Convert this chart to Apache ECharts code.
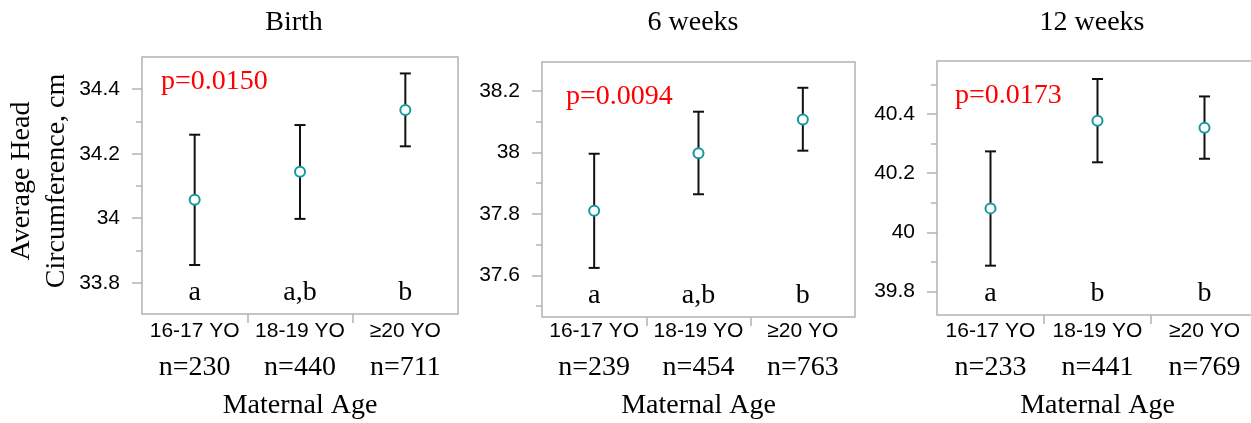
<!DOCTYPE html>
<html>
<head>
<meta charset="utf-8">
<script src="https://cdn.jsdelivr.net/npm/echarts@6/dist/echarts.min.js"></script>
<style>
html,body{margin:0;padding:0;background:#fff;}
#chart{width:1251px;height:423px;}
</style>
</head>
<body>
<div id="chart"></div>
<script>
// ---------------- data ----------------
const categories = ['16-17 YO', '18-19 YO', '\u226520 YO'];
const panelTitles = ['Birth', '6 weeks', '12 weeks'];
const pValues = ['p=0.0150', 'p=0.0094', 'p=0.0173'];

const birthMean = [34.057, 34.144, 34.336];
const birthLow  = [33.855, 33.998, 34.223];
const birthHigh = [34.259, 34.289, 34.449];
const birthN = [230, 440, 711];
const birthLetters = ['a', 'a,b', 'b'];
const birthTicks = [33.8, 34, 34.2, 34.4];
const birthMinorTicks = [33.9, 34.1, 34.3];
const birthRange = [33.703, 34.5];

const week6Mean = [37.810, 37.998, 38.108];
const week6Low  = [37.624, 37.864, 38.006];
const week6High = [37.996, 38.133, 38.211];
const week6N = [239, 454, 763];
const week6Letters = ['a', 'a,b', 'b'];
const week6Ticks = [37.6, 37.8, 38, 38.2];
const week6MinorTicks = [37.5, 37.7, 37.9, 38.1];
const week6Range = [37.464, 38.295];

const week12Mean = [40.081, 40.378, 40.354];
const week12Low  = [39.887, 40.237, 40.249];
const week12High = [40.274, 40.519, 40.460];
const week12N = [233, 441, 769];
const week12Letters = ['a', 'b', 'b'];
const week12Ticks = [39.8, 40, 40.2, 40.4];
const week12MinorTicks = [39.9, 40.1, 40.3, 40.5];
const week12Range = [39.72, 40.58];

const yAxisTitle = 'Average Head\nCircumference, cm';
const xAxisTitle = 'Maternal Age';

// ---------------- layout / style ----------------
const SERIF = '"Liberation Serif", "Times New Roman", serif';
const SANS = '"Liberation Sans", Arial, Helvetica, sans-serif';
const FRAME = '#b3b3b3';
const TEAL = '#12999c';

const panels = [
  {mean: birthMean, low: birthLow, high: birthHigh, n: birthN, letters: birthLetters,
   ticks: birthTicks, minor: birthMinorTicks, range: birthRange,
   grid: {left: 142, top: 57, width: 316, height: 257}, titleX: 294, pPos: [161, 82]},
  {mean: week6Mean, low: week6Low, high: week6High, n: week6N, letters: week6Letters,
   ticks: week6Ticks, minor: week6MinorTicks, range: week6Range,
   grid: {left: 542, top: 62, width: 313, height: 255}, titleX: 693, pPos: [566, 97]},
  {mean: week12Mean, low: week12Low, high: week12High, n: week12N, letters: week12Letters,
   ticks: week12Ticks, minor: week12MinorTicks, range: week12Range,
   grid: {left: 937, top: 61, width: 321, height: 254}, titleX: 1092, pPos: [955, 96]}
];

const grids = [], xAxes = [], yAxes = [], series = [], graphics = [];

panels.forEach((p, i) => {
  grids.push(Object.assign({show: true, borderColor: FRAME, borderWidth: 1.5, backgroundColor: '#fff',
    containLabel: false, outerBoundsMode: 'none'}, p.grid));
  const bottom = p.grid.top + p.grid.height;
  // category axis with labels
  xAxes.push({
    type: 'category', gridIndex: i, data: categories, position: 'bottom',
    axisLine: {show: false}, axisTick: {show: false}, splitLine: {show: false},
    axisLabel: {
      margin: 316 - bottom, interval: 0,
      formatter: (v, idx) => '{c|' + v + '}\n{n|n=' + p.n[idx] + '}',
      rich: {
        c: {fontFamily: SANS, fontSize: 21, lineHeight: 30, color: '#000'},
        n: {fontFamily: SERIF, fontSize: 28, lineHeight: 44, color: '#000'}
      }
    },
    name: xAxisTitle, nameLocation: 'middle', nameGap: 392 - bottom,
    nameTextStyle: {fontFamily: SERIF, fontSize: 28, color: '#000', lineHeight: 28}
  });
  // value axis for category boundary ticks
  xAxes.push({
    type: 'value', gridIndex: i, min: 0, max: categories.length, position: 'bottom',
    axisLine: {show: false}, splitLine: {show: false}, axisLabel: {show: false},
    axisTick: {show: true, length: 9, inside: false, customValues: [1, 2],
      lineStyle: {color: FRAME, width: 1.5}}
  });
  // major y axis
  yAxes.push({
    type: 'value', gridIndex: i, min: p.range[0], max: p.range[1], position: 'left',
    axisLine: {show: false}, splitLine: {show: false},
    axisTick: {show: true, length: 10, customValues: p.ticks, lineStyle: {color: FRAME, width: 1.5}},
    axisLabel: {show: true, customValues: p.ticks, margin: 22, fontFamily: SANS, fontSize: 21, color: '#000'}
  });
  // minor y axis
  yAxes.push({
    type: 'value', gridIndex: i, min: p.range[0], max: p.range[1], position: 'left',
    axisLine: {show: false}, splitLine: {show: false}, axisLabel: {show: false},
    axisTick: {show: true, length: 6, customValues: p.minor, lineStyle: {color: FRAME, width: 1.5}}
  });

  const xi = i * 2, yi = i * 2;
  // error bars
  series.push({
    type: 'custom', xAxisIndex: xi, yAxisIndex: yi, z: 3,
    data: categories.map((c, k) => [k, p.low[k], p.high[k]]),
    renderItem: (params, api) => {
      const lo = api.coord([api.value(0), api.value(1)]);
      const hi = api.coord([api.value(0), api.value(2)]);
      const w = 5.5;
      const st = {stroke: '#111', lineWidth: 2};
      return {type: 'group', children: [
        {type: 'line', shape: {x1: lo[0], y1: lo[1], x2: hi[0], y2: hi[1]}, style: st},
        {type: 'line', shape: {x1: lo[0] - w, y1: lo[1], x2: lo[0] + w, y2: lo[1]}, style: st},
        {type: 'line', shape: {x1: hi[0] - w, y1: hi[1], x2: hi[0] + w, y2: hi[1]}, style: st}
      ]};
    }
  });
  // means
  series.push({
    type: 'scatter', xAxisIndex: xi, yAxisIndex: yi, z: 4,
    data: categories.map((c, k) => [k, p.mean[k]]),
    symbol: 'circle', symbolSize: 10,
    itemStyle: {color: '#fff', borderColor: TEAL, borderWidth: 2, opacity: 1},
    emphasis: {disabled: true}
  });
  // significance letters
  series.push({
    type: 'custom', xAxisIndex: xi, yAxisIndex: yi, z: 5,
    data: categories.map((c, k) => [k, p.mean[k], p.letters[k]]),
    renderItem: (params, api) => {
      const pt = api.coord([api.value(0), api.value(1)]);
      const cs = params.coordSys;
      return {type: 'text', x: pt[0], y: cs.y + cs.height - 21,
        style: {text: p.letters[params.dataIndex], font: '28px ' + SERIF, fill: '#000',
          textAlign: 'center', textVerticalAlign: 'middle'}};
    }
  });

  graphics.push({type: 'text', x: p.titleX, y: 23,
    style: {text: panelTitles[i], font: '28px ' + SERIF, fill: '#000', textAlign: 'center', textVerticalAlign: 'middle'}});
  graphics.push({type: 'text', x: p.pPos[0], y: p.pPos[1],
    style: {text: pValues[i], font: '28px ' + SERIF, fill: '#ff0000', textAlign: 'left', textVerticalAlign: 'middle'}});
});

graphics.push({type: 'text', x: 39, y: 181, rotation: Math.PI / 2,
  style: {text: yAxisTitle, font: '28px ' + SERIF, fill: '#000', textAlign: 'center',
    textVerticalAlign: 'middle', lineHeight: 35}});

const chart = echarts.init(document.getElementById('chart'), null, {renderer: 'canvas'});
chart.setOption({
  backgroundColor: '#fff',
  animation: false,
  grid: grids, xAxis: xAxes, yAxis: yAxes, series: series,
  graphic: graphics
});
</script>
</body>
</html>
